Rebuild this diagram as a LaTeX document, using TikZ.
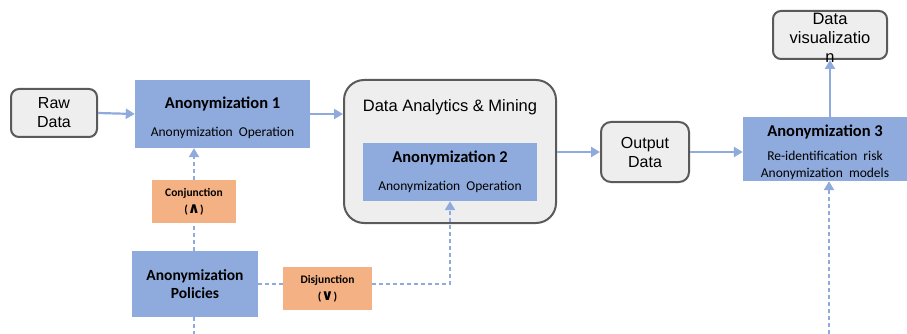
\documentclass[tikz,border=0pt]{standalone}
\usepackage{fontspec}
\setmainfont{Liberation Sans}
\newfontfamily\cali{Carlito}
\newfontfamily\logicsym{DejaVu Sans}
\usepackage{tikz}
\usetikzlibrary{arrows.meta}
\definecolor{anonblue}{HTML}{8FAADC}
\definecolor{logicorange}{HTML}{F4B183}
\definecolor{storefill}{HTML}{EEEEEE}
\definecolor{storeline}{HTML}{5A5A5A}
\newcommand{\anontitle}{\cali\bfseries\fontsize{16.5}{19}\selectfont}
\newcommand{\anontext}{\cali\fontsize{13.5}{17}\selectfont}

\begin{document}
\begin{tikzpicture}[x=1pt, y=-1pt,
    store/.style={draw=storeline, line width=2pt, fill=storefill, rounded corners=8pt,
      align=center, inner sep=0pt, font=\fontsize{16}{19}\selectfont},
    anon/.style={fill=anonblue, align=center, inner sep=0pt, font=\anontext},
    logic/.style={fill=logicorange, align=center, inner sep=0pt,
      font=\cali\bfseries\fontsize{11.5}{17}\selectfont},
    flow/.style={draw=anonblue, line width=2.2pt, -{Triangle[length=9pt,width=10pt]}},
    rule/.style={draw=anonblue, line width=2.2pt, dash pattern=on 4pt off 3pt},
    ruleflow/.style={rule, -{Triangle[length=9pt,width=10pt]}}]
    \useasboundingbox (0,0) rectangle (907,334);

    % data stores
    \node[store, minimum width=86pt, minimum height=48pt] (raw) at (54,113) {Raw\\Data};
    \node[store, rounded corners=20pt, minimum width=212pt, minimum height=143pt] (mining) at (450,151.5) {};
    \node[font=\fontsize{16.5}{19}\selectfont] (miningtitle) at (450,107.5) {Data Analytics \& Mining};
    \node[store, rounded corners=10pt, minimum width=88pt, minimum height=60pt] (output) at (645,152) {Output\\Data};
    \node[store, minimum width=114pt, minimum height=48pt,
      label={[align=center, yshift=-2.5pt, font=\fontsize{16.5}{19}\selectfont]center:Data\\visualizatio\\n}] (vis) at (830,35) {};

    % anonymization steps
    \node[anon, minimum width=175pt, minimum height=68pt] (anon1) at (222.5,114)
      {{\anontitle\rule{0pt}{20pt}Anonymization 1}\\[11pt]Anonymization\ \ Operation};
    \node[anon, minimum width=174pt, minimum height=58pt] (anon2) at (450,172)
      {{\anontitle Anonymization 2}\\[11pt]Anonymization\ \ Operation};
    \node[anon, minimum width=164pt, minimum height=64pt] (anon3) at (825,149)
      {{\anontitle\rule{0pt}{19pt}Anonymization 3}\\[7pt]Re-identification\ \ risk\\Anonymization\ \ models};
    \node[anon, minimum width=126pt, minimum height=66pt,
      font=\cali\bfseries\fontsize{15.5}{18}\selectfont] (policies) at (195,284) {Anonymization\\Policies};

    % combination rules
    \node[logic, minimum width=84pt, minimum height=43pt] (conj) at (194,201.5)
      {Conjunction\\({\logicsym\fontsize{15}{12}\selectfont ∧})};
    \node[logic, minimum width=89pt, minimum height=43pt] (disj) at (327.5,288.5)
      {Disjunction\\({\logicsym\fontsize{15}{12}\selectfont ∨})};

    \coordinate (policiesend) at (194,334);
    \coordinate (anonend) at (829,334);

    % data flow
    \draw[flow] (raw.east) -- (anon1.west);
    \draw[flow] (anon1.east) -- (anon1.east -| mining.west);
    \draw[flow] (mining.east |- output.west) -- (output.west);
    \draw[flow] (output.east) -- (output.east -| anon3.west);
    \draw[flow] (vis.south |- anon3.north) -- (vis.south);

    % policy links
    \draw[rule] (policies.north -| conj.south) -- (conj.south);
    \draw[ruleflow] (conj.north) -- (conj.north |- anon1.south);
    \draw[rule] (policies.east) -- (policies.east -| disj.west);
    \draw[ruleflow] (policies.east -| disj.east) -- (policies.east -| anon2.south) -- (anon2.south);
    \draw[rule] (policies.south -| conj.south) -- (policiesend);
    \draw[ruleflow] (anonend) -- (anonend |- anon3.south);
\end{tikzpicture}
\end{document}
